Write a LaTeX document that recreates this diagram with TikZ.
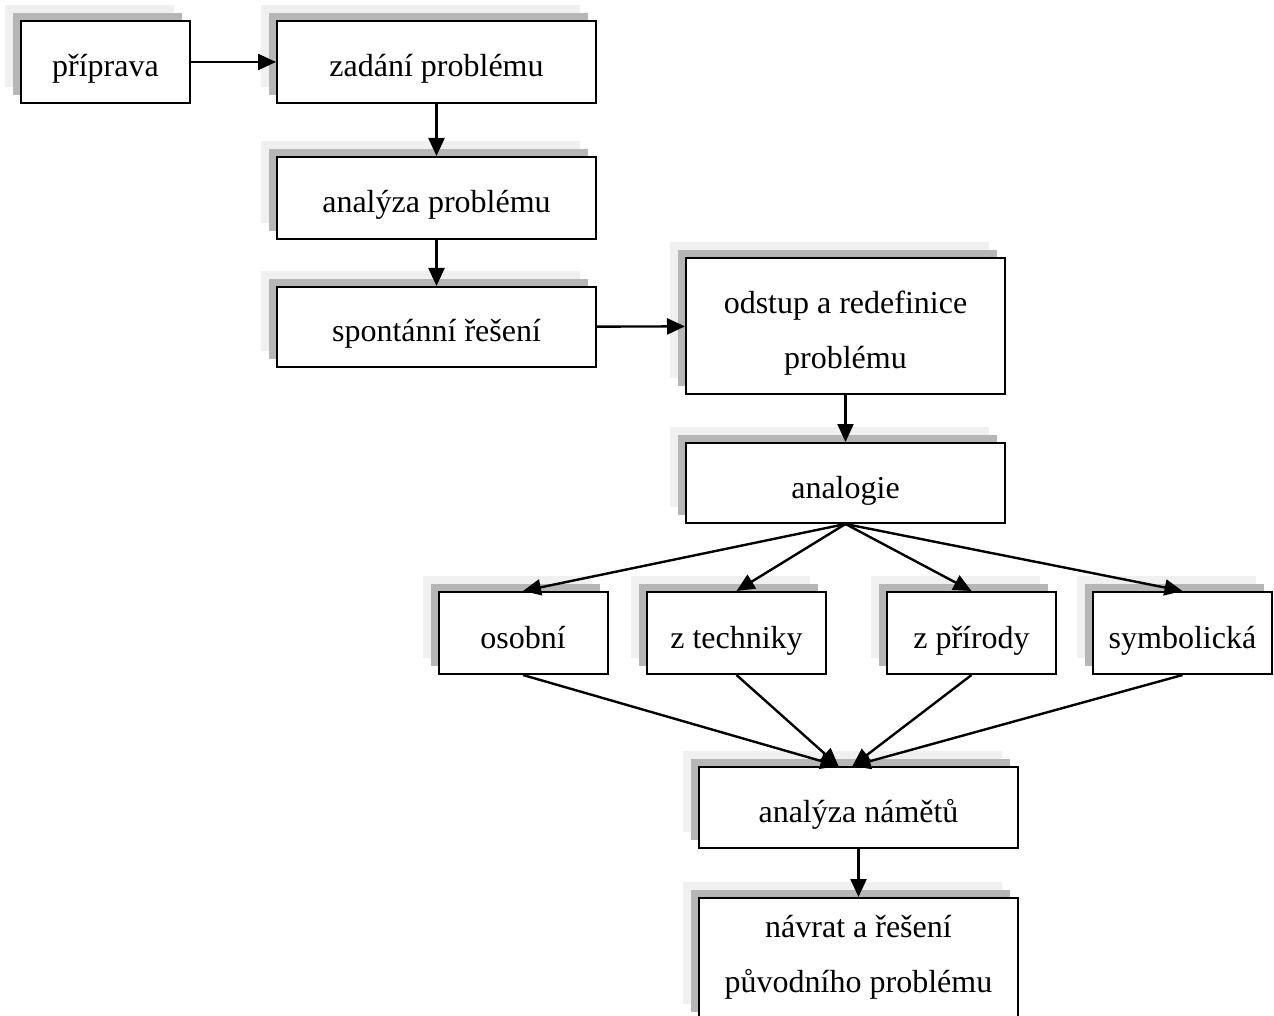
\documentclass[tikz,border=0pt]{standalone}
\usepackage{fontspec}
\setmainfont{Liberation Serif}
\usetikzlibrary{arrows.meta,shadows}
\definecolor{shadowdark}{RGB}{182,182,182}
\definecolor{shadowlight}{RGB}{240,240,240}
\begin{document}
\begin{tikzpicture}
[
    x=0.5pt, y=-0.5pt,
    stage/.style={draw, line width=1pt, fill=white, align=center, inner sep=0pt,
        minimum width=159.5pt, minimum height=41pt,
        text height=15pt, text depth=0pt,
        font=\fontsize{16}{27.5}\selectfont,
        general shadow={fill=shadowlight, shadow xshift=-8pt, shadow yshift=8pt},
        general shadow={fill=shadowdark, shadow xshift=-4pt, shadow yshift=4pt}},
    narrow/.style={minimum width=84.5pt},
    medium/.style={minimum width=89.5pt},
    link/.style={-{Triangle[length=9pt,width=8pt]}, line width=1.2pt},
]
\useasboundingbox (0,0) rectangle (1274,1016);
\node[stage, narrow] (priprava) at (105.5,62) {příprava};
\node[stage] (zadani) at (436.5,62) {zadání problému};
\node[stage] (analyza) at (436.5,198) {analýza problému};
\node[stage, minimum height=40pt] (spontanni) at (436.5,327) {spontánní řešení};
\node[stage, minimum height=68pt, text height=42pt] (odstup) at (845.5,326) {odstup a redefinice\\problému};
\node[stage, minimum height=40pt] (analogie) at (845.5,483) {analogie};
\node[stage, narrow] (osobni) at (523,633) {osobní};
\node[stage, medium] (technika) at (736.5,633) {z techniky};
\node[stage, narrow] (priroda) at (971.5,633) {z přírody};
\node[stage, medium] (symbolika) at (1182.5,633) {symbolická};
\node[stage, minimum height=40.5pt] (namety) at (858.5,807.5) {analýza námětů};
\node[stage, minimum height=61pt, text height=33pt] (navrat) at (858.5,959) {návrat a řešení\\původního problému};
% hlavni linie
\draw[link] (priprava) -- (zadani);
\draw[link] (zadani) -- (analyza);
\draw[link] (analyza) -- (spontanni);
\draw[link] (spontanni) -- (odstup);
\draw[link] (odstup) -- (analogie);
% druhy analogii
\foreach \kind in {osobni,technika,priroda,symbolika}
    \draw[link] (analogie.south) -- (\kind.north);
\draw[link] (osobni.south) -- ([xshift=-10pt]namety.north);
\draw[link] (technika.south) -- ([xshift=-10pt]namety.north);
\draw[link] (priroda.south) -- ([xshift=-3pt]namety.north);
\draw[link] (symbolika.south) -- ([xshift=-3pt]namety.north);
\draw[link] (namety) -- (navrat);
\end{tikzpicture}
\end{document}
